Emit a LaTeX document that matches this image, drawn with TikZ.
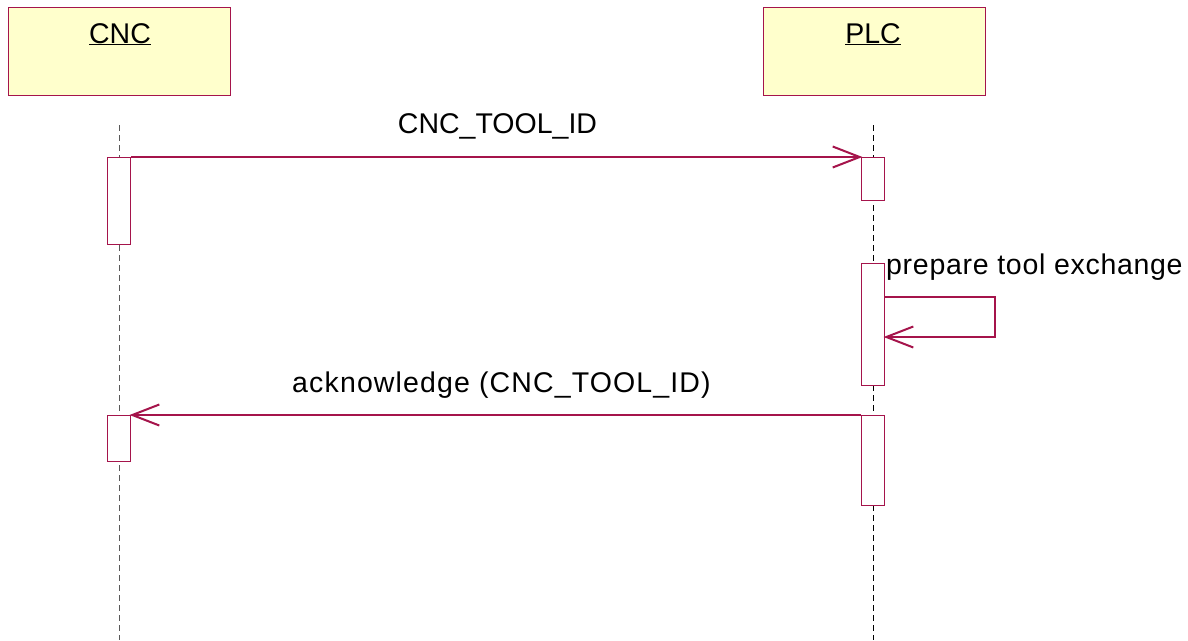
\documentclass[tikz,border=0pt]{standalone}
\usepackage{fontspec}
\setmainfont{Liberation Sans}
\newfontfamily\spacedfont[LetterSpace=4.0]{Liberation Sans}
\newfontfamily\lightspacedfont[LetterSpace=2.5]{Liberation Sans}
\usetikzlibrary{arrows.meta}
\definecolor{umlred}{RGB}{165,20,75}
\definecolor{headfill}{RGB}{255,255,204}
\begin{document}
\begin{tikzpicture}[x=1pt,y=-1pt,
  headbox/.style={draw=umlred,fill=headfill,line width=1.1pt,minimum width=222pt,minimum height=88pt,inner sep=0pt,anchor=north west},
  actbox/.style={draw=umlred,fill=white,line width=1.1pt,minimum width=23pt,inner sep=0pt,anchor=north},
  lifeline/.style={line width=1pt,dash pattern=on 6pt off 4pt},
  msg/.style={draw=umlred,line width=1.2pt,-{Straight Barb[length=27pt,width=21pt,line width=2pt]}},
  lbl/.style={font=\fontsize{28.5}{32}\selectfont,inner sep=0pt},
  slbl/.style={font=\fontsize{28.5}{32}\spacedfont,inner sep=0pt},
  llbl/.style={font=\fontsize{28.5}{32}\lightspacedfont,inner sep=0pt}]
\useasboundingbox (0,0) rectangle (1188,640);
% heads
\node[headbox] (cnchead) at (8,7) {};
\node[headbox] (plchead) at (763,7) {};
\node[lbl,anchor=base] (cnclbl) at (120,43) {\underline{CNC}};
\node[lbl,anchor=base] (plclbl) at (873,43) {\underline{PLC}};
% lifelines
\coordinate (cnctop) at (119,125);
\coordinate (cncbot) at (119,640);
\coordinate (plctop) at (873,125);
\coordinate (plcbot) at (873,640);
\draw[lifeline,draw=black!65] (cnctop) -- (cncbot);
\draw[lifeline,draw=black] (plctop) -- (plcbot);
% activations
\node[actbox,minimum height=87pt] (a1) at (119,157) {};
\node[actbox,minimum height=43pt] (p1) at (873,157) {};
\node[actbox,minimum height=122pt] (p2) at (873,263) {};
\node[actbox,minimum height=46pt] (a2) at (119,415) {};
\node[actbox,minimum height=90pt] (p3) at (873,415) {};
% message 1
\draw[msg,shorten >=-1.5pt] (a1.north east) -- (p1.north west);
\node[lbl,anchor=base] (m1) at (497.5,133) {CNC\_TOOL\_ID};
% self message
\coordinate (s1) at (p2.east |- 0,297);
\coordinate (s2) at (995,297);
\coordinate (s3) at (995,337);
\coordinate (s4) at (p2.east |- 0,337);
\draw[msg,shorten >=-1.5pt] (s1) -- (s2) -- (s3) -- (s4);
\node[llbl,anchor=base west] (m2) at (886,274) {prepare tool exchange};
% message 3
\draw[msg,shorten >=-1.5pt] (p3.north west) -- (a2.north east);
\node[slbl,anchor=base] (m3) at (501.5,392) {acknowledge (CNC\_TOOL\_ID)};
\end{tikzpicture}
\end{document}
